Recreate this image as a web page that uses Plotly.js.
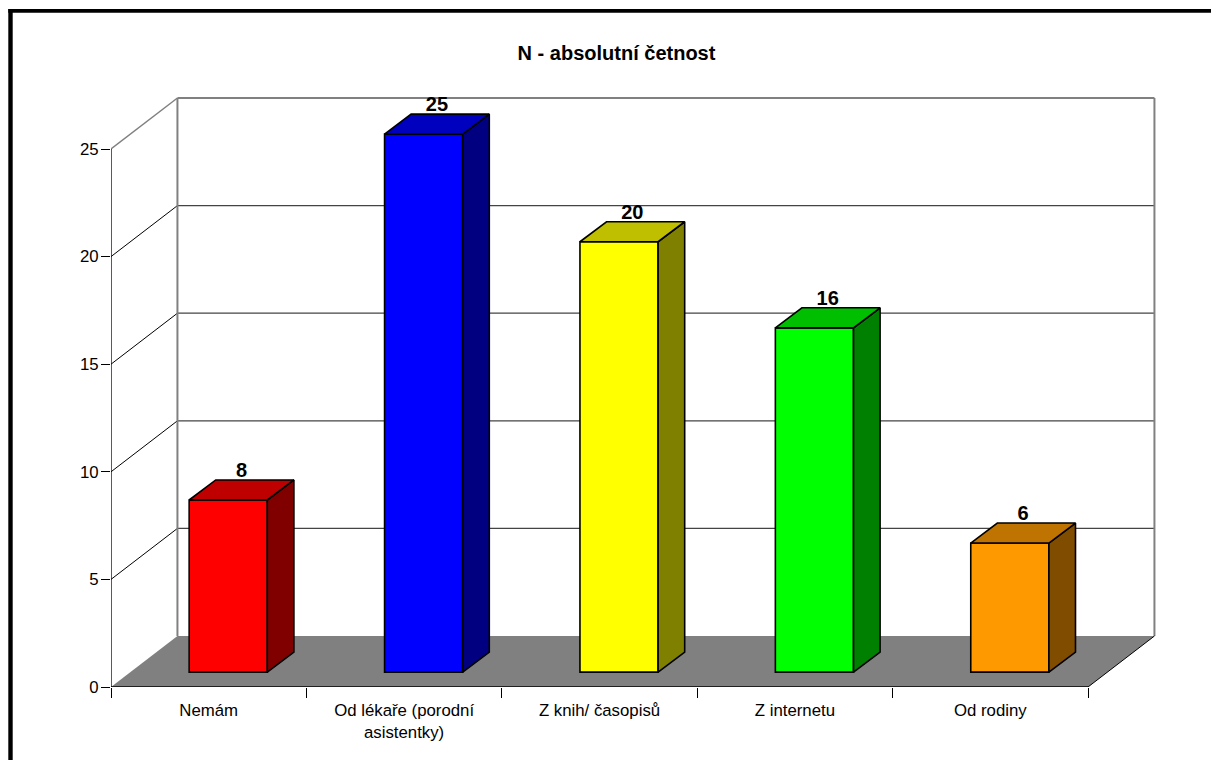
<!DOCTYPE html>
<html>
<head>
<meta charset="utf-8">
<script src="https://cdn.plot.ly/plotly-3.0.1.min.js"></script>
<style>
html, body { margin: 0; padding: 0; background: #fff; overflow: hidden; }
#chart { width: 1211px; height: 760px; }
</style>
</head>
<body>
<div id="chart"></div>
<script>
// Survey answers, absolute counts
const categories = ['Nemám', 'Od lékaře (porodní<br>asistentky)', 'Z knih/ časopisů', 'Z internetu', 'Od rodiny'];
const counts = [8, 25, 20, 16, 6];
const yTicks = [0, 5, 10, 15, 20, 25];

const frontColors = ['#FF0000', '#0000FF', '#FFFF00', '#00FF00', '#FF9900'];
const topColors = ['#BF0000', '#0000BF', '#BFBF00', '#00BF00', '#BF7300'];
const sideColors = ['#800000', '#000080', '#808000', '#008000', '#804D00'];

// Oblique projection, expressed in axis units
const wallDx = 0.34, wallDy = 2.37;   // room depth
const barDx = 0.136, barDy = 0.93;    // bar depth
const barOffX = 0.1, barOffY = 0.69;  // bar front relative to the front floor edge
const barWidth = 0.4;
const labelDrop = 0.09;               // value labels nearly touch the top face
const n = categories.length;

const centers = categories.map((_, i) => i + 0.5 + barOffX);

const outline = { color: '#000', width: 1.6 };
const traces = [{
  type: 'bar',
  x: centers,
  y: counts,
  base: counts.map(() => barOffY),
  width: barWidth,
  marker: { color: frontColors, line: outline },
  hoverinfo: 'skip',
  showlegend: false
}];

counts.forEach((v, i) => {
  const l = centers[i] - barWidth / 2, r = centers[i] + barWidth / 2;
  const low = barOffY, high = v + barOffY;
  traces.push({
    type: 'scatter', mode: 'lines', fill: 'toself', fillcolor: sideColors[i],
    x: [r, r + barDx, r + barDx, r, r],
    y: [low, low + barDy, high + barDy, high, low],
    line: outline, hoverinfo: 'skip', showlegend: false
  });
  traces.push({
    type: 'scatter', mode: 'lines', fill: 'toself', fillcolor: topColors[i],
    x: [l, l + barDx, r + barDx, r, l],
    y: [high, high + barDy, high + barDy, high, high],
    line: outline, hoverinfo: 'skip', showlegend: false
  });
});

// Value labels sit over the middle of each bar's top face
traces.push({
  type: 'scatter', mode: 'text',
  x: centers.map(c => c + barDx / 2),
  y: counts.map(v => v + barOffY + barDy - labelDrop),
  text: counts.map(v => '<b>' + v + '</b>'),
  textposition: 'top center',
  textfont: { family: 'Liberation Sans, Arial, sans-serif', size: 20, color: '#000' },
  cliponaxis: false, hoverinfo: 'skip', showlegend: false
});

const seg = (x0, y0, x1, y1, color, width) => ({
  type: 'line', xref: 'x', yref: 'y', layer: 'below',
  x0, y0, x1, y1, line: { color, width }
});

// Room: floor, back wall, side wall grid
const shapes = [{
  type: 'path', xref: 'x', yref: 'y', layer: 'below', line: { width: 0 }, fillcolor: '#808080',
  path: `M0,0 L${n},0 L${n + wallDx},${wallDy} L${wallDx},${wallDy} Z`
}];
yTicks.slice(1, -1).forEach(v => {
  shapes.push(seg(0, v, wallDx, v + wallDy, '#000', 1));
  shapes.push(seg(wallDx, v + wallDy, n + wallDx, v + wallDy, '#444', 1.2));
});
const maxTick = yTicks[yTicks.length - 1];
shapes.push(seg(0, maxTick, wallDx, maxTick + wallDy, '#808080', 1.5));
shapes.push(seg(wallDx, maxTick + wallDy, n + wallDx, maxTick + wallDy, '#808080', 2));
shapes.push(seg(wallDx, wallDy, wallDx, maxTick + wallDy, '#808080', 2));
shapes.push(seg(n + wallDx, wallDy, n + wallDx, maxTick + wallDy, '#808080', 2));
shapes.push(seg(n, 0, n + wallDx, wallDy, '#000', 1));
shapes.push(seg(0, 0, n, 0, '#000', 1.3));
shapes.push(seg(0, 0, 0, maxTick, '#000', 1.3));

// Heavy frame along the left and top edges of the page
const pw = 1050, ph = 591, ml = 111, mt = 96;
const catPx = 195.4, unitPx = 21.52;
const px = v => (v - ml) / pw, py = v => 1 - (v - mt) / ph;
shapes.push({ type: 'rect', xref: 'paper', yref: 'paper', layer: 'below', line: { width: 0 }, fillcolor: '#000',
  x0: px(8.3), x1: px(12.7), y0: py(9), y1: py(760) });
shapes.push({ type: 'rect', xref: 'paper', yref: 'paper', layer: 'below', line: { width: 0 }, fillcolor: '#000',
  x0: px(8.3), x1: px(1211), y0: py(9), y1: py(12.7) });

const tickFont = { family: 'Liberation Sans, Arial, sans-serif', size: 16.8, color: '#000' };

Plotly.newPlot('chart', traces, {
  width: 1211, height: 760,
  margin: { l: ml, r: 1211 - ml - pw, t: mt, b: 760 - mt - ph, pad: 0 },
  paper_bgcolor: '#fff', plot_bgcolor: 'rgba(0,0,0,0)',
  showlegend: false,
  title: {
    text: '<b>N - absolutní četnost</b>',
    xref: 'container', yref: 'container', x: 616.5 / 1211, y: 1 - 53 / 760,
    xanchor: 'center', yanchor: 'middle',
    font: { family: 'Liberation Sans, Arial, sans-serif', size: 20, color: '#000' }
  },
  xaxis: {
    range: [0, pw / catPx], showgrid: false, zeroline: false, showline: false,
    tickmode: 'array',
    tickvals: categories.map((_, i) => i + 0.5),
    ticktext: categories,
    ticks: '', tickfont: tickFont, ticklabelstandoff: 11, tickangle: 0,
    minor: { tickmode: 'array', tickvals: categories.map((_, i) => i).concat([n]), ticks: 'outside', ticklen: 10, tickwidth: 1, tickcolor: '#000', showgrid: false }
  },
  yaxis: {
    range: [0, ph / unitPx], showgrid: false, zeroline: false, showline: false,
    tickmode: 'array', tickvals: yTicks, ticks: 'outside', ticklen: 9, tickwidth: 1, tickcolor: '#000',
    tickfont: tickFont, ticklabelstandoff: -1
  },
  shapes
}, { staticPlot: true });
</script>
</body>
</html>
